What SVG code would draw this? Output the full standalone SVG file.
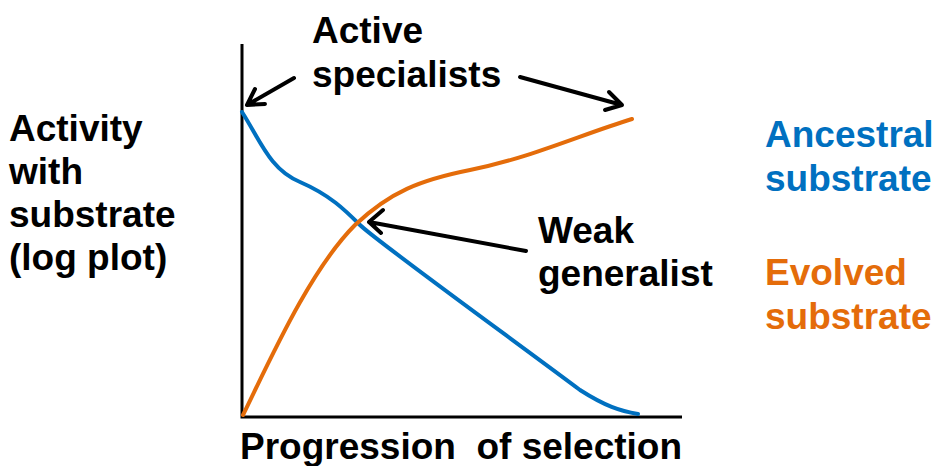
<svg xmlns="http://www.w3.org/2000/svg" width="936" height="466" viewBox="0 0 936 466">
  <style>
    text { font-family: "Liberation Sans", Arial, sans-serif; font-weight: bold; font-size: 37px; }
    .dark { fill: #000000; }
    .blue { fill: #0070C0; }
    .orange { fill: #E46C0A; }
    .axis { stroke: #000000; stroke-width: 3; fill: none; }
    .pointer { stroke: #000000; stroke-width: 4; fill: none; stroke-linecap: round; stroke-linejoin: round; }
    .curve { fill: none; stroke-width: 4; stroke-linecap: round; }
  </style>
  <rect width="936" height="466" fill="#ffffff"/>

  <!-- axes -->
  <g id="axes">
    <path class="axis" d="M242,44 V417 H682"/>
  </g>

  <!-- data curves -->
  <g id="curves">
    <path id="ancestral-curve" class="curve" stroke="#0070C0" d="M242,112 C260,140 270,170 300,182 C330,195 345,210 360,225 C375,240 520,345 580,390 C605,406 620,411 638,414"/>
    <path id="evolved-curve" class="curve" stroke="#E46C0A" d="M243,415 C270,360 310,270 355,225 C390,192 420,180 470,170 C530,158 580,135 632,119"/>
  </g>

  <!-- pointer arrows -->
  <g id="connectors">
    <path class="pointer" d="M294,78 L247,105 M255,89 L247,105 L265,104"/>
    <path class="pointer" d="M520,77 L622,105 M609,92 L622,105 L605,110"/>
    <path class="pointer" d="M526,251 L369,222 M383,210 L369,222 L381,233"/>
  </g>

  <g id="y-label">
    <text class="dark" x="9" y="141">Activity</text>
    <text class="dark" x="9" y="184">with</text>
    <text class="dark" x="9" y="227">substrate</text>
    <text class="dark" x="9" y="270">(log plot)</text>
  </g>

  <g id="x-label">
    <text class="dark" x="240" y="459" xml:space="preserve">Progression  of selection</text>
  </g>

  <g id="active-specialists">
    <text class="dark" x="312" y="43">Active</text>
    <text class="dark" x="312" y="87">specialists</text>
  </g>

  <g id="weak-generalist">
    <text class="dark" x="538" y="243">Weak</text>
    <text class="dark" x="538" y="286">generalist</text>
  </g>

  <g id="legend-ancestral">
    <text class="blue" x="765" y="147">Ancestral</text>
    <text class="blue" x="765" y="191">substrate</text>
  </g>

  <g id="legend-evolved">
    <text class="orange" x="765" y="285">Evolved</text>
    <text class="orange" x="765" y="329">substrate</text>
  </g>
</svg>
